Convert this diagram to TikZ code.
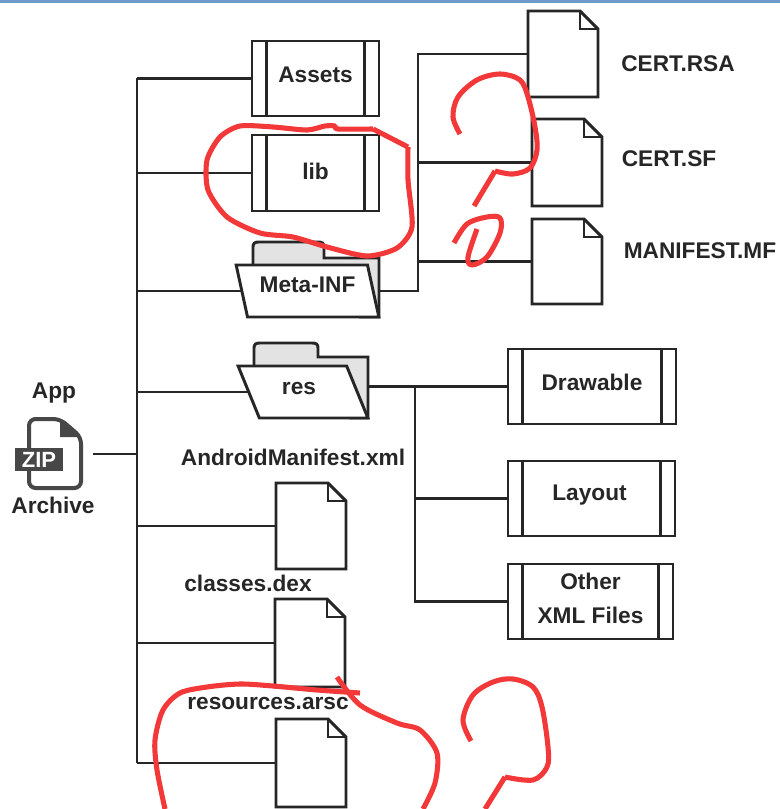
\documentclass[tikz,border=0pt]{standalone}
\usepackage{fontspec}
\setmainfont{Liberation Sans}
\usepackage{xcolor}
\usetikzlibrary{shapes.geometric, positioning, calc}
\newcommand{\pxu}{0.75pt}
\definecolor{inkdark}{HTML}{262626}
\definecolor{foldergray}{HTML}{E3E3E3}
\definecolor{topbar}{HTML}{6F9BC9}
\definecolor{markerred}{HTML}{F23838}
\tikzset{
  outline/.style={draw=inkdark, line width=2.2pt, line join=miter},
  wire/.style={draw=inkdark, line width=1.9pt},
  caption/.style={font=\fontsize{17}{25.5}\selectfont\bfseries, text=inkdark, inner sep=0pt, align=center},
  procbox/.style 2 args={rectangle, outline, caption, outer sep=0pt,
                minimum width=#1*\pxu, minimum height=#2*\pxu,
                path picture={
                  \draw[outline] ([xshift=14.5*\pxu]path picture bounding box.north west) -- ([xshift=14.5*\pxu]path picture bounding box.south west);
                  \draw[outline] ([xshift=-14.5*\pxu]path picture bounding box.north east) -- ([xshift=-14.5*\pxu]path picture bounding box.south east);
                }},
  docbox/.style={rectangle, minimum width=70*\pxu, inner sep=0pt, outer sep=0pt},
  folderfront/.style 2 args={trapezium, outline, caption, fill=white, outer sep=0pt,
                trapezium left angle=107.4, trapezium right angle=72.6, trapezium stretches=true,
                minimum width=#1*\pxu, minimum height=#2*\pxu},
  folderback/.style={outline, fill=foldergray, rounded corners=0pt},
  redink/.style={draw=markerred, line width=3.8pt, line cap=butt, line join=round},
}
\newcommand{\docfile}[4]{
  \node[docbox, minimum height=#4*\pxu] (#1) at (#2,#3) {};
  \draw[outline, fill=white] (#1.north west) -- ([xshift=-18*\pxu]#1.north east) -- ([yshift=-18*\pxu]#1.north east) -- (#1.south east) -- (#1.south west) -- cycle;
  \draw[outline] ([xshift=-18*\pxu]#1.north east) -- ([xshift=-18*\pxu,yshift=-18*\pxu]#1.north east) -- ([yshift=-18*\pxu]#1.north east);
}
\begin{document}
\begin{tikzpicture}[x=0.75pt, y=-0.75pt]
  \useasboundingbox (0,0) rectangle (780,809);
  \fill[white] (0,0) rectangle (780,809);
  \fill[topbar] (0,0) rectangle (780,3);

  % Archive icon
  \node[docbox, minimum width=76*\pxu, minimum height=73*\pxu] (zipicon) at (55,454) {};
  \draw[draw=inkdark!85, line width=3pt, rounded corners=5pt] (29,419) -- (60,419) -- (81,437) -- (81,488) -- (29,488) -- cycle;
  \fill[inkdark!85] (60,419) -- (81,437) -- (60,437) -- cycle;
  \node[rectangle, fill=inkdark!85, text=white, inner sep=0pt, minimum width=48*\pxu, minimum height=23*\pxu,
        font=\fontsize{16.5}{16.5}\selectfont\bfseries] (zipbanner) at (39,459.5) {ZIP};
  \node[caption] (applabel) at (54,393) {App};
  \node[caption] (archivelabel) at (53,505) {Archive};

  % Top level folders and boxes
  \node[procbox={127}{75}] (assets) at (315.5,78.5) {\raisebox{6pt}{Assets}};
  \node[procbox={127}{76}] (lib) at (315.5,173) {\raisebox{2pt}{lib}};
  \draw[folderback] (253,266) -- (253,247) .. controls (253,243) and (255,242) .. (259,242) -- (318,242) .. controls (322,242) and (324,243) .. (324,247) -- (324,258) -- (379,258) -- (379,317) -- (360,317) -- cycle;
  \node[folderfront={143}{52}] (metainf) at (307.5,291) {\raisebox{10pt}{Meta-INF}};
  \draw[folderback] (254,367) -- (254,348) .. controls (254,344) and (256,343) .. (260,343) -- (312,343) .. controls (316,343) and (318,344) .. (318,348) -- (318,357) -- (368,357) -- (368,418) -- (350,418) -- cycle;
  \node[folderfront={130}{52}] (res) at (303,392) {\hspace*{-6pt}\raisebox{6pt}{res}};

  % Files on the trunk
  \docfile{manifestxml}{311}{526}{86}
  \docfile{classesdex}{310}{643}{88}
  \docfile{resourcesarsc}{311}{763}{88}
  \node[caption] (manifestlabel) at (293,457) {AndroidManifest.xml};
  \node[caption] (classeslabel) at (248,583) {classes.dex};
  \node[caption] (resourceslabel) at (268,703) {resources.arsc};

  % Meta-INF files
  \docfile{certrsa}{563}{54}{86}
  \docfile{certsf}{567}{162.5}{87}
  \docfile{manifestmf}{567}{261.5}{85}
  \node[caption] (rsalabel) at (678,64) {CERT.RSA};
  \node[caption] (sflabel) at (669,159) {CERT.SF};
  \node[caption] (mflabel) at (700,251) {MANIFEST.MF};

  % res boxes
  \node[procbox={168}{75}] (drawable) at (592,386.5) {\raisebox{6pt}{Drawable}};
  \node[procbox={167}{75}] (layout) at (591.5,498.5) {\hspace*{-3pt}\raisebox{9pt}{Layout}};
  \node[procbox={165}{75}] (otherxml) at (590.5,601.5) {};
  \node[caption] (otherlabel) at (590.5,598.5) {Other\\XML Files};

  % Trunk
  \coordinate (trunktop) at (137,78.5);
  \coordinate (trunkbot) at (137,763);
  \coordinate (trunkin) at (137,454);
  \draw[wire] (trunktop) -- (trunkbot);
  \draw[wire] (zipicon.east) -- (trunkin);
  \draw[wire] (trunktop) -- (assets.west);
  \draw[wire] (lib.west -| trunktop) -- (lib.west);
  \draw[wire] (metainf.west -| trunktop) -- (metainf.west);
  \draw[wire] (res.west -| trunktop) -- (res.west);
  \draw[wire] (manifestxml.west -| trunktop) -- (manifestxml.west);
  \draw[wire] (classesdex.west -| trunktop) -- (classesdex.west);
  \draw[wire] (trunkbot) -- (resourcesarsc.west);

  % Meta-INF branch
  \coordinate (metaout) at (380,291);
  \coordinate (metabus) at (418,291);
  \draw[wire] (metaout) -- (metabus) -- (certrsa.west -| metabus) -- (certrsa.west);
  \draw[wire] (certsf.west -| metabus) -- (certsf.west);
  \draw[wire] (manifestmf.west -| metabus) -- (manifestmf.west);

  % res branch
  \coordinate (resout) at (368,386.5);
  \coordinate (resbus) at (415,386.5);
  \draw[wire] (resout) -- (drawable.west);
  \draw[wire] (resbus) -- (otherxml.west -| resbus) -- (otherxml.west);
  \draw[wire] (layout.west -| resbus) -- (layout.west);

  % Red marker on top
  \draw[redink] plot[smooth, tension=0.55] coordinates {(408,147) (373,129)};
  \draw[redink] plot[smooth, tension=0.45] coordinates {(373,129) (338,129) (335,126) (325,126) (307,130) (273,127) (240,126) (220,137) (207,160) (208,190) (227,217) (260,233) (293,237) (327,247) (367,256) (397,248) (412,227) (408,180) (408,147)};
  \draw[redink] plot[smooth, tension=0.55] coordinates {(460,134) (453,117) (458,97) (477,80) (500,74) (520,80) (528,97) (535,127) (537,150) (530,168) (513,174) (495,171)};
  \draw[redink] (495,171) -- (474,206);
  \draw[redink] plot[smooth, tension=0.55] coordinates {(454,243) (467,224) (487,217) (500,218) (500,233) (487,257) (472,265) (468,257) (477,229)};
  \draw[redink] plot[smooth, tension=0.5] coordinates {(165,809) (157,770) (155,740) (163,710) (180,693) (207,687) (240,684) (273,686) (317,690) (360,693)};
  \draw[redink] plot[smooth, tension=0.5] coordinates {(337,677) (360,705) (397,723) (420,730) (437,753) (435,783) (423,809)};
  \draw[redink] plot[smooth, tension=0.55] coordinates {(471,741) (463,720) (473,695) (493,682) (513,679) (533,687) (542,707) (548,747) (547,767) (533,780) (505,777)};
  \draw[redink] (505,777) -- (485,809);
\end{tikzpicture}
\end{document}
